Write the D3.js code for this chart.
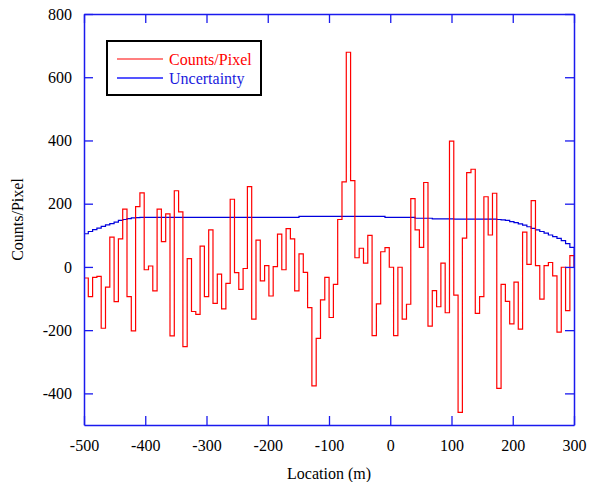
<!DOCTYPE html>
<html>
<head>
<meta charset="utf-8">
<script src="https://cdn.jsdelivr.net/npm/d3@7"></script>
<style>
  body { margin: 0; background: #fff; }
  svg text { font-family: "Liberation Serif", "Times New Roman", serif; }
</style>
</head>
<body>
<div id="chart"></div>
<script>
// histogram bins along the line, 7 m wide starting at -500 m
const locStart = -500;
const binWidth = 7.02;

// counts per pixel, one value per bin
const counts = [
  -35, -94, -33, -30, -194, -64, 94, -110, 89, 183,
  -94, -202, 191, 234, -9, 3, -76, 183, 80, 168,
  -218, 241, 174, -252, 26, -141, -150, 66, -94, 117,
  -115, -23, -133, -52, 214, -18, -71, -5, 254, -165,
  85, -44, 4, -92, 1, 104, -9, 121, 89, -76,
  41, -17, -129, -376, -226, -104, -33, -160, -55, 150,
  269, 679, 273, 29, 59, 12, 100, -217, -117, 48,
  61, -1, -217, -1, -165, -118, 216, 117, 62, 267,
  -187, -75, -126, 12, -145, 398, -89, -460, 91, 298,
  309, -147, -94, 222, 101, 233, -384, -55, -109, -180,
  -48, -197, 110, 8, 210, 4, -102, 4, 14, -28,
  -206, -1, -138, 36
];

// uncertainty per bin
const uncertainty = [
  105, 112, 118, 123, 128, 133, 137, 142, 147, 150,
  153, 155, 156, 157, 157, 157, 157, 157, 157, 157,
  157, 157, 157, 157, 157, 157, 157, 157, 157, 157,
  157, 157, 157, 157, 157, 157, 157, 157, 157, 157,
  157, 157, 157, 157, 157, 157, 157, 157, 157, 157,
  160, 160, 160, 160, 160, 160, 160, 160, 160, 160,
  160, 160, 160, 160, 160, 160, 160, 160, 160, 160,
  157, 157, 157, 157, 157, 157, 157, 154, 154, 154,
  154, 152, 152, 152, 152, 152, 151, 151, 151, 151,
  151, 151, 151, 151, 151, 151, 150, 149, 147, 143,
  140, 136, 132, 127, 122, 117, 112, 107, 101, 96,
  90, 83, 74, 62
];

const xTicks = [-500, -400, -300, -200, -100, 0, 100, 200, 300];
const yTicks = [-400, -200, 0, 200, 400, 600, 800];

const seriesNames = ["Counts/Pixel", "Uncertainty"];

const width = 590;
const height = 482;
const margin = {top: 14, right: 16, bottom: 57, left: 84};
const plotW = width - margin.left - margin.right;
const plotH = height - margin.top - margin.bottom;

const svg = d3.select("#chart").append("svg")
    .attr("width", width)
    .attr("height", height);

const g = svg.append("g")
    .attr("transform", `translate(${margin.left},${margin.top})`);

const x = d3.scaleLinear().domain([-500, 300]).range([0, plotW]);
const y = d3.scaleLinear().domain([-500, 800]).range([plotH, 0]);

g.append("clipPath").attr("id", "clip")
  .append("rect").attr("width", plotW).attr("height", plotH);

// turn a per-bin array into step points, starting and ending on zero
function stepPoints(values) {
    let pts = [{x: locStart, y: 0}];
    values.forEach(function (v, i) {
        pts.push({x: locStart + i * binWidth, y: v});
    });
    pts.push({x: locStart + values.length * binWidth, y: 0});
    return pts;
}

const stepLine = d3.line()
    .x(d => x(d.x))
    .y(d => y(d.y))
    .curve(d3.curveStepAfter);

g.append("path")
    .datum(stepPoints(uncertainty))
    .attr("clip-path", "url(#clip)")
    .attr("fill", "none")
    .attr("stroke", "#0000dd")
    .attr("stroke-width", 1.2)
    .attr("d", stepLine);

g.append("path")
    .datum(stepPoints(counts))
    .attr("clip-path", "url(#clip)")
    .attr("fill", "none")
    .attr("stroke", "#ff0000")
    .attr("stroke-width", 1.2)
    .attr("d", stepLine);

// plain hyphen for negatives, like the original
const plainNum = d => String(d);

// axes - ticks point inward on all four sides
function styleAxis(sel) {
    sel.selectAll(".domain").attr("stroke", "#1a1aee").attr("stroke-width", 1.5);
    sel.selectAll(".tick line").attr("stroke", "#1a1aee").attr("stroke-width", 1.3);
    sel.selectAll("text").attr("fill", "#000").style("font-size", "16px");
}

g.append("g")
    .attr("transform", `translate(0,${plotH})`)
    .call(d3.axisBottom(x).tickValues(xTicks).tickFormat(plainNum).tickSize(-9).tickSizeOuter(0).tickPadding(15))
    .call(styleAxis);

g.append("g")
    .call(d3.axisTop(x).tickValues(xTicks).tickSize(-9).tickSizeOuter(0).tickFormat(""))
    .call(styleAxis);

g.append("g")
    .call(d3.axisLeft(y).tickValues(yTicks).tickFormat(plainNum).tickSize(-9).tickSizeOuter(0).tickPadding(12))
    .call(styleAxis);

g.append("g")
    .attr("transform", `translate(${plotW},0)`)
    .call(d3.axisRight(y).tickValues(yTicks).tickSize(-9).tickSizeOuter(0).tickFormat(""))
    .call(styleAxis);

// axis titles
svg.append("text")
    .attr("x", margin.left + plotW / 2)
    .attr("y", 479)
    .attr("text-anchor", "middle")
    .style("font-size", "16px")
    .text("Location (m)");

svg.append("text")
    .attr("transform", `translate(23,${margin.top + plotH / 2}) rotate(-90)`)
    .attr("text-anchor", "middle")
    .style("font-size", "16px")
    .text("Counts/Pixel");

// legend box
const legend = svg.append("g").attr("transform", "translate(107,41)");
legend.append("rect")
    .attr("width", 154)
    .attr("height", 54)
    .attr("fill", "#fff")
    .attr("stroke", "#000")
    .attr("stroke-width", 2);

const legendColors = ["#ff0000", "#5555ff"];
const legendText = ["#ff0000", "#1a1add"];
seriesNames.forEach(function (name, i) {
    legend.append("line")
        .attr("x1", 10).attr("x2", 56)
        .attr("y1", 18 + i * 19).attr("y2", 18 + i * 19)
        .attr("stroke", legendColors[i])
        .attr("stroke-width", i === 0 ? 1.2 : 2);
    legend.append("text")
        .attr("x", 62)
        .attr("y", 24 + i * 19)
        .attr("fill", legendText[i])
        .style("font-size", "16px")
        .text(name);
});
</script>
</body>
</html>
